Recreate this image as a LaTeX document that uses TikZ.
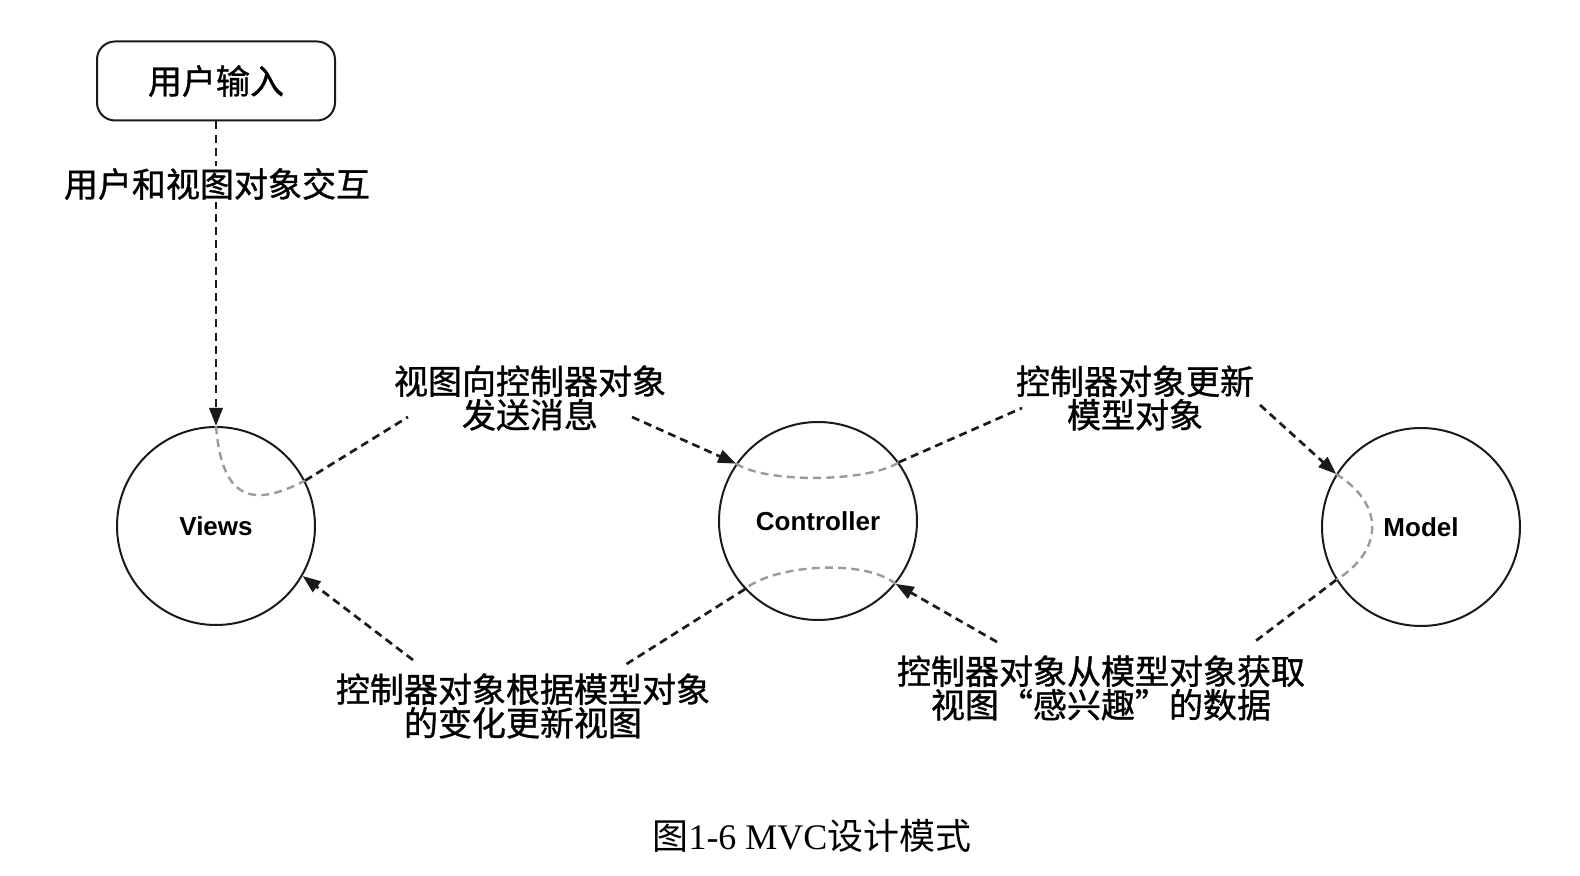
\documentclass[tikz,border=0pt]{standalone}
\usepackage{fontspec}
\setmainfont{Liberation Serif}
\setsansfont{Liberation Sans}
\newfontfamily\cjk[FakeBold=1]{Noto Sans CJK SC}
\newfontfamily\cjkcap{Noto Sans CJK SC}
\usetikzlibrary{positioning,arrows.meta}
\definecolor{inkLine}{HTML}{1A1A1A}
\definecolor{inkGrey}{HTML}{9A9A9A}

\begin{document}
\begin{tikzpicture}[x=0.5pt, y=-0.5pt, every node/.style={font=\cjk\fontsize{17}{15.5}\selectfont},
  obj/.style={circle, draw=inkLine, line width=1pt, minimum size=99pt, inner sep=0pt, font=\sffamily\bfseries\fontsize{13}{15}\selectfont},
  inbox/.style={draw=inkLine, line width=1pt, rounded corners=9pt, minimum width=119pt, minimum height=39.5pt},
  lbl/.style={align=center, inner sep=1pt},
  flow/.style={draw=inkLine, line width=1.35pt, dash pattern=on 4pt off 2.6pt},
  inner/.style={draw=inkGrey, line width=1.2pt, dash pattern=on 4pt off 2.6pt},
  arr/.style={flow, -{Triangle[length=9pt, width=6.6pt]}}]
\useasboundingbox (0,0) rectangle (1580,876);
\node[inbox] (user) at (216,81) {用户输入};
\node[obj] (views) at (216,526) {Views};
\node[obj] (ctrl) at (818,521) {Controller};
\node[obj] (model) at (1421,527) {Model};
% labels
\node[lbl] (send) at (530,398) {视图向控制器对象\\发送消息};
\node[lbl] (update) at (1135,398) {控制器对象更新\\模型对象};
\node[lbl] (refresh) at (523,706) {控制器对象根据模型对象\\的变化更新视图};
\node[lbl] (fetch) at (1101,688) {控制器对象从模型对象获取\\视图“感兴趣”的数据};
\coordinate (send-l) at (408,417); \coordinate (send-r) at (632,417);
\coordinate (update-l) at (1022,408); \coordinate (update-r) at (1260,405);
\coordinate (fetch-r) at (1253,643); \coordinate (fetch-l) at (997,642);
\coordinate (refresh-r) at (625,665); \coordinate (refresh-l) at (413,660);
% user input
\draw[arr] (user) -- (views);
\node[lbl, fill=white] (interact) at (217,184) {用户和视图对象交互};
% views -> controller -> model
\draw[inner] (views.north) .. controls +(6,73) and +(-54,28) .. (views.27);
\draw[flow] (views.27) -- (send-l); \draw[arr] (send-r) -- (ctrl.145);
\draw[inner] (ctrl.145) .. controls +(30,20) and +(-30,20) .. (ctrl.36);
\draw[flow] (ctrl.36) -- (update-l); \draw[arr] (update-r) -- (model.148);
% model -> controller -> views
\draw[inner] (model.148) .. controls +(48,30) and +(48,-30) .. (model.212);
\draw[flow] (model.212) -- (fetch-r); \draw[arr] (fetch-l) -- (ctrl.-39);
\draw[inner] (ctrl.-39) .. controls +(-30,-25) and +(30,-25) .. (ctrl.-137);
\draw[flow] (ctrl.-137) -- (refresh-r); \draw[arr] (refresh-l) -- (views.-30);
\node[font=\rmfamily\fontsize{18}{20}\selectfont] (caption) at (812,836) {{\cjkcap 图}1-6 MVC{\cjkcap 设计模式}};
\end{tikzpicture}
\end{document}
